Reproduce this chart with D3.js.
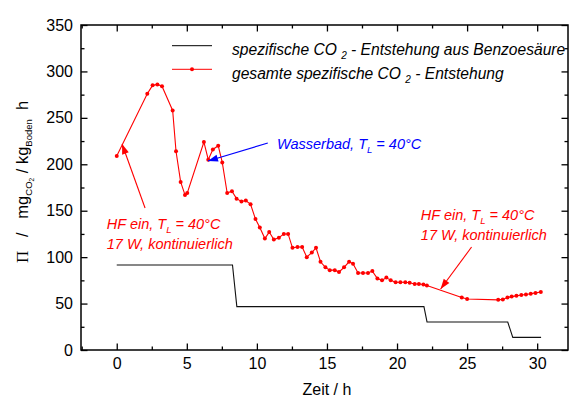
<!DOCTYPE html>
<html><head><meta charset="utf-8">
<script src="https://cdn.jsdelivr.net/npm/d3@7"></script>
<style>
html,body{margin:0;padding:0;background:#fff;}
svg{display:block;}
text{font-family:"Liberation Sans",Arial,sans-serif;}
</style></head>
<body>
<svg id="c" width="572" height="397"></svg>
<script>
// ---- data ----
const totalTime = [0,2.18,2.56,2.9,3.23,3.99,4.23,4.56,4.87,5.03,6.22,6.53,6.86,7.24,7.53,7.88,8.22,8.55,8.9,9.21,9.55,9.9,10.21,10.57,10.88,11.21,11.57,11.92,12.23,12.54,12.9,13.23,13.56,13.92,14.22,14.54,14.89,15.2,15.56,15.86,16.22,16.58,16.86,17.22,17.57,17.93,18.24,18.6,18.93,19.24,19.55,19.9,20.24,20.59,20.9,21.26,21.56,21.88,22.13,24.62,25.0,27.22,27.55,27.88,28.18,28.52,28.87,29.2,29.54,29.88,30.26];
const totalValues = [209,276,285,286,284,258,214,181,167,169,224,205,216,220,202,169,171,163,160,161,157,141,132,120,127,119,121,125,125,110,111,111,100,105,110,95,89,86,86,84,89,95,93,83,83,83,85,77,75,78,75,73,73,73,72.5,71,71,70.5,69.5,56.5,55,54,54.5,56.5,57.5,58.3,59.2,59.8,60.5,61.5,62.5];
const benzTime = [0,8.26,8.57,21.92,22.14,27.9,28.26,30.28];
const benzValues = [91.5,91.5,46.7,46.7,30.2,30.2,13.6,13.6];
const xTicks = [0,5,10,15,20,25,30];
const yTicks = [0,50,100,150,200,250,300,350];
const legendLabels = ["spezifische CO", "gesamte spezifische CO"];

const svg = d3.select("#c");
const x = d3.scaleLinear().domain([-2.55, 32.2]).range([81, 568]);
const y = d3.scaleLinear().domain([0, 350]).range([350, 25]);
const fs = 16;

// axes
const xMinor = d3.range(-2.5, 32.3, 2.5).filter(v => !xTicks.includes(v));
const yMinor = d3.range(25, 350, 50);

function drawAxis(gen, tr, major, minor, labels) {
  const g1 = svg.append("g").attr("transform", tr)
    .call(gen.tickValues(major).tickSize(-6.5).tickPadding(8).tickFormat(labels ? d3.format("d") : ""));
  g1.select(".domain").remove();
  g1.selectAll("line").attr("stroke", "#000").attr("stroke-width", 1.3);
  g1.selectAll("text").attr("font-size", fs).attr("fill", "#000").attr("font-family", "Liberation Sans, Arial, sans-serif");
  const g2 = svg.append("g").attr("transform", tr)
    .call(gen.tickValues(minor).tickSize(-3.5).tickFormat(""));
  g2.select(".domain").remove();
  g2.selectAll("line").attr("stroke", "#000").attr("stroke-width", 1.3);
}
drawAxis(d3.axisBottom(x), `translate(0,${y(0)})`, xTicks, xMinor, true);
drawAxis(d3.axisTop(x), `translate(0,${y(350)})`, xTicks, xMinor, false);
drawAxis(d3.axisLeft(y), `translate(${x.range()[0]},0)`, yTicks, yMinor, true);
drawAxis(d3.axisRight(y), `translate(${x.range()[1]},0)`, yTicks, yMinor, false);

svg.append("rect").attr("x", x.range()[0]).attr("y", y(350))
  .attr("width", x.range()[1] - x.range()[0]).attr("height", y(0) - y(350))
  .attr("fill", "none").attr("stroke", "#000").attr("stroke-width", 1.5);

// axis titles
svg.append("text").attr("x", x(15)).attr("y", 395).attr("text-anchor", "middle")
  .attr("font-size", fs).text("Zeit / h");

const yl = svg.append("text").attr("transform", `translate(28,${y(181)}) rotate(-90)`)
  .attr("text-anchor", "middle").attr("font-size", 16.5);
yl.append("tspan").attr("font-family", "Liberation Serif, Times New Roman, serif").attr("font-size", 17).text("\u03A0");
yl.append("tspan").text("\u00A0\u00A0\u00A0/\u00A0\u00A0\u00A0mg");
yl.append("tspan").attr("font-size", 9.5).attr("dy", 4).text("CO");
yl.append("tspan").attr("font-size", 6.5).attr("dy", 2).text("2");
yl.append("tspan").attr("dy", -6).text("\u00A0/ kg");
yl.append("tspan").attr("font-size", 9.5).attr("dy", 4).text("Boden");
yl.append("tspan").attr("dy", -4).text("\u00A0\u00A0h");

// black step line
const line = d3.line().x(d => x(d[0])).y(d => y(d[1]));
const benz = benzTime.map((t, i) => [t, benzValues[i]]);
svg.append("path").datum(benz).attr("d", line).attr("fill", "none")
  .attr("stroke", "#111").attr("stroke-width", 1.1);

// red total
const tot = totalTime.map((t, i) => [t, totalValues[i]]);
svg.append("path").datum(tot).attr("d", line).attr("fill", "none")
  .attr("stroke", "#ff0000").attr("stroke-width", 1.1);
svg.append("g").selectAll("circle").data(tot).join("circle")
  .attr("cx", d => x(d[0])).attr("cy", d => y(d[1])).attr("r", 2).attr("fill", "#ff0000");

// legend
const legY = [45.7, 69.3];
svg.append("line").attr("x1", 172).attr("x2", 212).attr("y1", legY[0]).attr("y2", legY[0])
  .attr("stroke", "#000").attr("stroke-width", 1);
svg.append("line").attr("x1", 172).attr("x2", 212).attr("y1", legY[1]).attr("y2", legY[1])
  .attr("stroke", "#ff0000").attr("stroke-width", 1);
svg.append("circle").attr("cx", 192).attr("cy", legY[1]).attr("r", 2).attr("fill", "#ff0000");
const legEnds = [" - Entstehung aus Benzoes\u00E4ure", " - Entstehung"];
legendLabels.forEach((lab, i) => {
  const t = svg.append("text").attr("x", 232).attr("y", legY[i] + 9.5)
    .attr("font-size", 15.6).attr("font-style", "italic");
  t.append("tspan").text(lab + "\u00A0");
  t.append("tspan").attr("font-size", 10).attr("dy", 4).text("2");
  t.append("tspan").attr("dy", -4).text(legEnds[i]);
});

// annotations
function arrow(x1, y1, x2, y2, color) {
  svg.append("line").attr("x1", x1).attr("y1", y1).attr("x2", x2).attr("y2", y2)
    .attr("stroke", color).attr("stroke-width", 1.1);
  const a = Math.atan2(y2 - y1, x2 - x1), L = 10, W = 3.5;
  const bx = x2 - L * Math.cos(a), by = y2 - L * Math.sin(a);
  const p = [[x2, y2], [bx + W * Math.sin(a), by - W * Math.cos(a)], [bx - W * Math.sin(a), by + W * Math.cos(a)]];
  svg.append("polygon").attr("points", p.map(d => d.join(",")).join(" ")).attr("fill", color);
}
function hfText(x0, yb) {
  const t1 = svg.append("text").attr("x", x0).attr("y", yb).attr("font-size", 14.5)
    .attr("font-style", "italic").attr("fill", "#ff0000");
  t1.append("tspan").text("HF ein, T");
  t1.append("tspan").attr("font-size", 9.5).attr("dy", 4).text("L");
  t1.append("tspan").attr("dy", -4).text(" = 40\u00B0C");
  svg.append("text").attr("x", x0).attr("y", yb + 20).attr("font-size", 14.5)
    .attr("font-style", "italic").attr("fill", "#ff0000").text("17 W, kontinuierlich");
}
arrow(x(2.02), y(152.9), x(0.38), y(221.8), "#ff0000");
hfText(x(-0.71), y(130.3));
arrow(x(25.32), y(110.9), x(23.11), y(65.7), "#ff0000");
hfText(x(21.7), y(140));
arrow(x(10.78), y(222.9), x(6.51), y(203.5), "#0000ff");
const wb = svg.append("text").attr("x", x(11.44)).attr("y", y(217)).attr("font-size", 14.5)
  .attr("font-style", "italic").attr("fill", "#0000ff");
wb.append("tspan").text("Wasserbad, T");
wb.append("tspan").attr("font-size", 9.5).attr("dy", 4).text("L");
wb.append("tspan").attr("dy", -4).text(" = 40\u00B0C");
</script>
</body></html>
